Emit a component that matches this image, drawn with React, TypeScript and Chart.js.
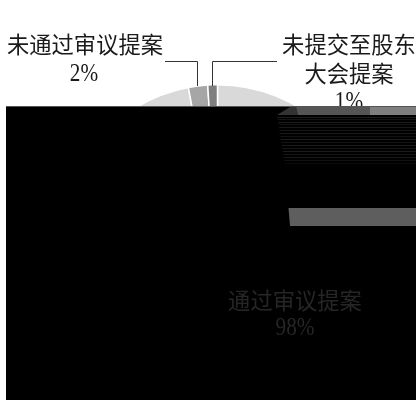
import { useEffect, useRef } from "react";
import { Chart, registerables } from "chart.js";

Chart.register(...registerables);

const categories = ["通过审议提案", "未通过审议提案", "未提交至股东大会提案"];
const shares = [98, 2, 1];
const sliceColors = ["#d9d9d9", "#a6a6a6", "#7f7f7f"];

const FONT = '22.3px "Liberation Serif", "Noto Sans CJK SC", serif';
const DIGIT_FONT = '25px "Liberation Serif", serif';

// [text, centre x, baseline y]
const topCaptions: [string, number, number][] = [
  ["未通过审议提案", 85, 53],
  ["2%", 84, 81],
  ["未提交至股东", 349, 53],
  ["大会提案", 349, 82],
  ["1%", 349, 109],
];
const innerCaptions: [string, number, number][] = [
  ["通过审议提案", 295, 309],
  ["98%", 295, 335],
];

// Leader polylines from the outer captions to their slices.
const leaders: [number, number][][] = [
  [[165, 61.5], [197.5, 61.5], [197.5, 86]],
  [[277, 61.5], [212.5, 61.5], [212.5, 86]],
];

// The dark block over the lower part of the figure and the bands inside it.
const block = { x0: 6, y0: 106, x1: 416, y1: 400 };
const bands: { fill: string; pts: [number, number][] }[] = [
  { fill: "#333333", pts: [[277, 115], [290, 107], [296, 107], [298, 115]] },
  { fill: "#555555", pts: [[296, 107], [370, 107], [370, 115], [298, 115]] },
  { fill: "#7f7f7f", pts: [[370, 107], [416, 107], [416, 115], [370, 115]] },
  { fill: "#5e5e5e", pts: [[288.5, 208], [416, 208], [416, 226], [290, 226]] },
];
const stripeRows = [117, 119, 122, 124, 127, 130, 133, 136, 139, 142, 145, 148, 151, 154, 157, 160, 163];
const stripeShades = ["#1c1c1c", "#141414", "#1a1a1a", "#121212", "#181818", "#141414", "#1a1a1a", "#121212", "#1c1c1c", "#141414", "#1a1a1a", "#161616", "#1c1c1c", "#141414", "#181818", "#101010", "#0c0c0c"];

function drawCaption(ctx: CanvasRenderingContext2D, t: string, x: number, y: number) {
  if (t.endsWith("%")) {
    // Percentages are set in a tall, narrow cut.
    ctx.save();
    ctx.font = DIGIT_FONT;
    ctx.translate(x, y);
    ctx.scale(0.85, 1);
    ctx.fillText(t, 0, 0);
    ctx.restore();
  } else {
    ctx.font = FONT;
    ctx.fillText(t, x, y);
  }
}

const overlay = {
  id: "captionsAndBlock",
  afterDraw(chart: Chart) {
    const ctx = chart.ctx;
    ctx.save();

    ctx.strokeStyle = "#333333";
    ctx.lineWidth = 1;
    for (const line of leaders) {
      ctx.beginPath();
      line.forEach(([x, y], i) => (i ? ctx.lineTo(x, y) : ctx.moveTo(x, y)));
      ctx.stroke();
    }

    ctx.textAlign = "center";
    ctx.textBaseline = "alphabetic";
    ctx.fillStyle = "#1a1a1a";
    for (const [t, x, y] of topCaptions) drawCaption(ctx, t, x, y);

    ctx.fillStyle = "#000000";
    ctx.fillRect(block.x0, block.y0, block.x1 - block.x0, block.y1 - block.y0);
    ctx.fillStyle = "#555555";
    ctx.fillRect(block.x0, block.y0, block.x1 - block.x0, 1);

    for (const band of bands) {
      ctx.fillStyle = band.fill;
      ctx.beginPath();
      band.pts.forEach(([x, y], i) => (i ? ctx.lineTo(x, y) : ctx.moveTo(x, y)));
      ctx.closePath();
      ctx.fill();
    }

    stripeRows.forEach((y, i) => {
      const left = 277 + ((y - 115) * 8) / 50;
      ctx.fillStyle = stripeShades[i];
      ctx.fillRect(left, y, block.x1 - left, 1);
    });

    ctx.fillStyle = "#262626";
    for (const [t, x, y] of innerCaptions) drawCaption(ctx, t, x, y);
    ctx.restore();
  },
};

export default function App() {
  const ref = useRef<HTMLCanvasElement>(null);
  useEffect(() => {
    const chart = new Chart(ref.current!, {
      type: "pie",
      data: {
        labels: categories,
        datasets: [
          {
            data: shares,
            backgroundColor: sliceColors,
            borderColor: "#ffffff",
            borderWidth: 1.5,
          },
        ],
      },
      options: {
        responsive: false,
        animation: false,
        devicePixelRatio: 1,
        layout: { padding: { left: 59, right: 43, top: 84, bottom: 0 } },
        plugins: { legend: { display: false }, tooltip: { enabled: false } },
      },
      plugins: [overlay],
    });
    return () => chart.destroy();
  }, []);
  return (
    <div style={{ position: "fixed", left: 0, top: 0, width: 419, height: 400, background: "#ffffff" }}>
      <canvas ref={ref} width={419} height={400} style={{ display: "block" }} />
    </div>
  );
}
